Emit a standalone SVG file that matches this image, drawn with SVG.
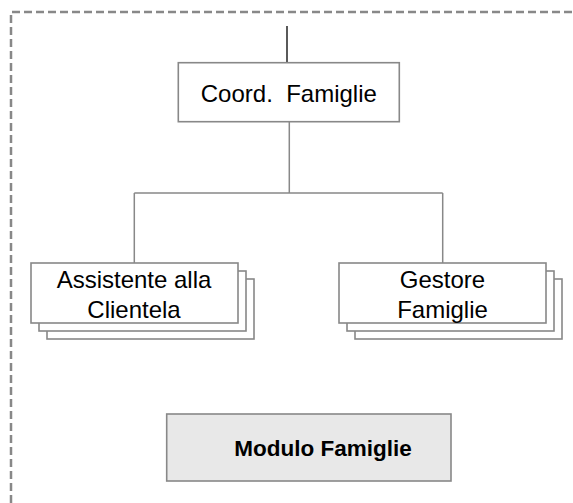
<svg xmlns="http://www.w3.org/2000/svg" width="573" height="503" viewBox="0 0 573 503">
  <style>
    .box { fill: #ffffff; stroke: #888888; stroke-width: 1.6; }
    .mod { fill: #e8e8e8; stroke: #888888; stroke-width: 1.6; }
    .conn { fill: none; stroke: #888888; stroke-width: 1.5; }
    .top { fill: none; stroke: #000000; stroke-width: 1.3; }
    .frame { fill: none; stroke: #888888; stroke-width: 2.5; stroke-dasharray: 8 4; }
    .lbl { font-family: "Liberation Sans", Arial, sans-serif; font-size: 24px; fill: #000000; text-anchor: middle; }
    .bold { font-family: "Liberation Sans", Arial, sans-serif; font-size: 22.5px; font-weight: bold; fill: #000000; }
  </style>
  <rect x="0" y="0" width="573" height="503" fill="#ffffff"/>
  <path class="frame" d="M11,503 V12 H573"/>
  <g id="connectors">
    <line class="top" x1="287" y1="26" x2="287" y2="62.7"/>
    <path class="conn" d="M289.3,122 V193 M134.3,193 H442.7 M134.3,193 V263 M442.7,193 V263"/>
  </g>
  <g id="coord">
    <rect class="box" x="178.3" y="62.7" width="221" height="59"/>
    <text class="lbl" x="288.8" y="101.5" xml:space="preserve" style="white-space:pre">Coord.  Famiglie</text>
  </g>
  <g id="assistente">
    <rect class="box" x="47" y="279" width="207" height="60"/>
    <rect class="box" x="39" y="271" width="207" height="60"/>
    <rect class="box" x="31" y="263" width="207" height="60"/>
    <text class="lbl" x="134" y="287.7">Assistente alla</text>
    <text class="lbl" x="134" y="317.7">Clientela</text>
  </g>
  <g id="gestore">
    <rect class="box" x="355" y="279" width="207" height="60"/>
    <rect class="box" x="347" y="271" width="207" height="60"/>
    <rect class="box" x="339" y="263" width="207" height="60"/>
    <text class="lbl" x="442.5" y="287.7">Gestore</text>
    <text class="lbl" x="442.5" y="317.7">Famiglie</text>
  </g>
  <g id="modulo">
    <rect class="mod" x="166.7" y="414" width="284.3" height="67"/>
    <text class="bold" x="234.3" y="456">Modulo Famiglie</text>
  </g>
</svg>
